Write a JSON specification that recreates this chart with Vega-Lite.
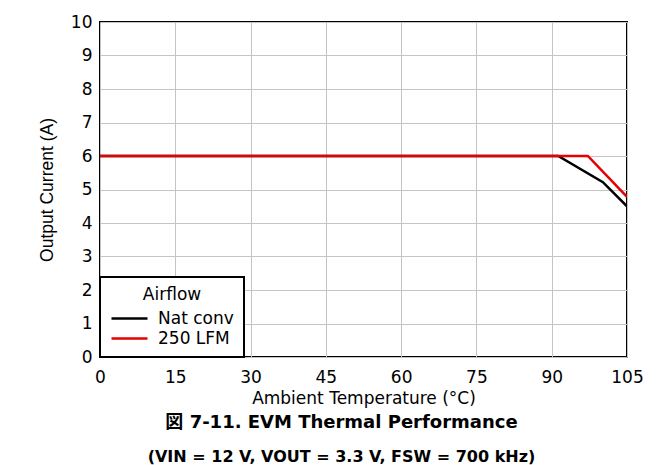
{
  "$schema": "https://vega.github.io/schema/vega-lite/v6.json",
  "autosize": "none",
  "width": 527,
  "height": 335,
  "padding": {"left": 100, "top": 22, "right": 40, "bottom": 108},
  "background": "white",
  "config": {
    "font": "DejaVu Sans, Noto Sans CJK JP",
    "view": {"stroke": "black", "strokeWidth": 2},
    "axis": {"gridColor": "#c4c4c4", "gridWidth": 1, "ticks": false, "domain": false, "labelFontSize": 17, "labelColor": "black", "titleFontSize": 17, "titleFontWeight": "normal", "titleColor": "black", "labelFont": "DejaVu Sans", "titleFont": "DejaVu Sans"}
  },
  "title": {
    "text": "図 7-11. EVM Thermal Performance",
    "subtitle": "(VIN = 12 V, VOUT = 3.3 V, FSW = 700 kHz)",
    "orient": "bottom",
    "anchor": "middle",
    "dx": -22,
    "offset": 8,
    "fontSize": 18,
    "fontWeight": "bold",
    "font": "DejaVu Sans, Noto Sans CJK JP",
    "subtitleFontSize": 16,
    "subtitleFontWeight": "bold",
    "subtitleFont": "DejaVu Sans",
    "subtitleColor": "black",
    "subtitlePadding": 17,
    "color": "black"
  },
  "data": {
    "values": [
      {"series": "Nat conv", "temp": 0, "current": 6},
      {"series": "Nat conv", "temp": 91.3, "current": 6},
      {"series": "Nat conv", "temp": 100.2, "current": 5.22},
      {"series": "Nat conv", "temp": 105, "current": 4.5},
      {"series": "250 LFM", "temp": 0, "current": 6},
      {"series": "250 LFM", "temp": 97.2, "current": 6},
      {"series": "250 LFM", "temp": 105, "current": 4.78}
    ]
  },
  "mark": {"type": "line", "strokeWidth": 2.5, "clip": true},
  "encoding": {
    "x": {"field": "temp", "type": "quantitative", "title": "Ambient Temperature (°C)",
      "scale": {"domain": [0, 105], "nice": false, "zero": false},
      "axis": {"values": [0, 15, 30, 45, 60, 75, 90, 105], "labelPadding": 12, "titlePadding": 5, "labelFlush": false}},
    "y": {"field": "current", "type": "quantitative", "title": "Output Current (A)",
      "scale": {"domain": [0, 10], "nice": false},
      "axis": {"values": [0,1,2,3,4,5,6,7,8,9,10], "labelPadding": 8, "titlePadding": 14, "labelFlush": false, "titleFont": "Liberation Sans", "titleFontSize": 17.5}},
    "color": {"field": "series", "type": "nominal", "title": "Airflow",
      "scale": {"domain": ["Nat conv", "250 LFM"], "range": ["black", "#e60000"]},
      "legend": {"orient": "bottom-left", "offset": 0, "fillColor": "white", "strokeColor": "black",
        "padding": 10, "titleAnchor": "middle", "titleFontSize": 17, "titleFontWeight": "normal", "titleColor": "black", "titleFont": "DejaVu Sans",
        "labelFontSize": 17, "labelFont": "DejaVu Sans", "labelColor": "black", "symbolType": "M-1.8,0H1.8", "symbolSize": 400, "symbolStrokeWidth": 2.5,
        "symbolOffset": 8, "labelOffset": 17, "rowPadding": 0, "titlePadding": 3,
        "encode": {"legend": {"update": {"strokeWidth": {"value": 2}}}}}}
  }
}
